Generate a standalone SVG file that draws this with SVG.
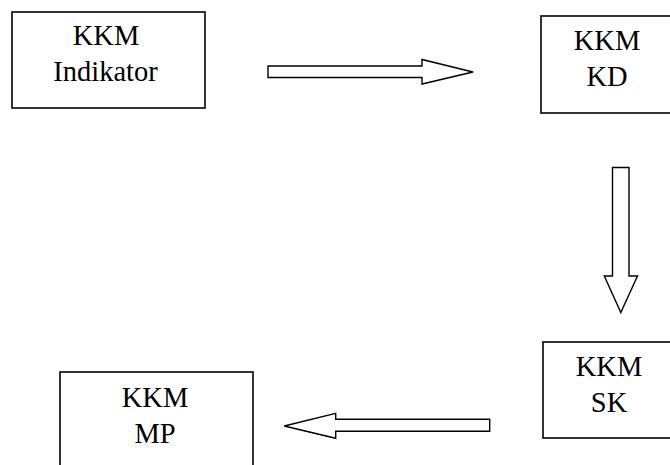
<svg xmlns="http://www.w3.org/2000/svg" width="670" height="465" viewBox="0 0 670 465">
<style>
.box{fill:#fff;stroke:#000;stroke-width:1.6}
.arr{fill:#fff;stroke:#000;stroke-width:1.4;stroke-linejoin:miter}
.t{font-family:'Liberation Serif','Times New Roman',serif;font-size:28.5px;fill:#000;text-anchor:middle}
</style>
<rect width="670" height="465" fill="#fff"/>
<g id="node-indikator">
<rect class="box" x="12" y="12" width="193" height="96"/>
<text class="t" x="106" y="45">KKM</text>
<text class="t" x="105.5" y="81">Indikator</text>
</g>
<g id="node-kd">
<rect class="box" x="541" y="16" width="134" height="97"/>
<text class="t" x="607" y="50">KKM</text>
<text class="t" x="607" y="86">KD</text>
</g>
<g id="node-sk">
<rect class="box" x="543" y="342" width="134" height="96"/>
<text class="t" x="609" y="376">KKM</text>
<text class="t" x="609" y="412">SK</text>
</g>
<g id="node-mp">
<rect class="box" x="60" y="372" width="193" height="100"/>
<text class="t" x="155" y="407">KKM</text>
<text class="t" x="155" y="443">MP</text>
</g>
<g id="connectors">
<polygon class="arr" points="268,66 422,66 422,59.5 473,72 422,84 422,77.5 268,77.5"/>
<polygon class="arr" points="612.5,167.5 629,167.5 629,276 637.5,276 620.8,312.5 604.3,276 612.5,276"/>
<polygon class="arr" points="489.7,419.3 335.7,419.3 335.7,413.3 284.3,426 335.7,438.3 335.7,431.3 489.7,431.3"/>
</g>
</svg>
